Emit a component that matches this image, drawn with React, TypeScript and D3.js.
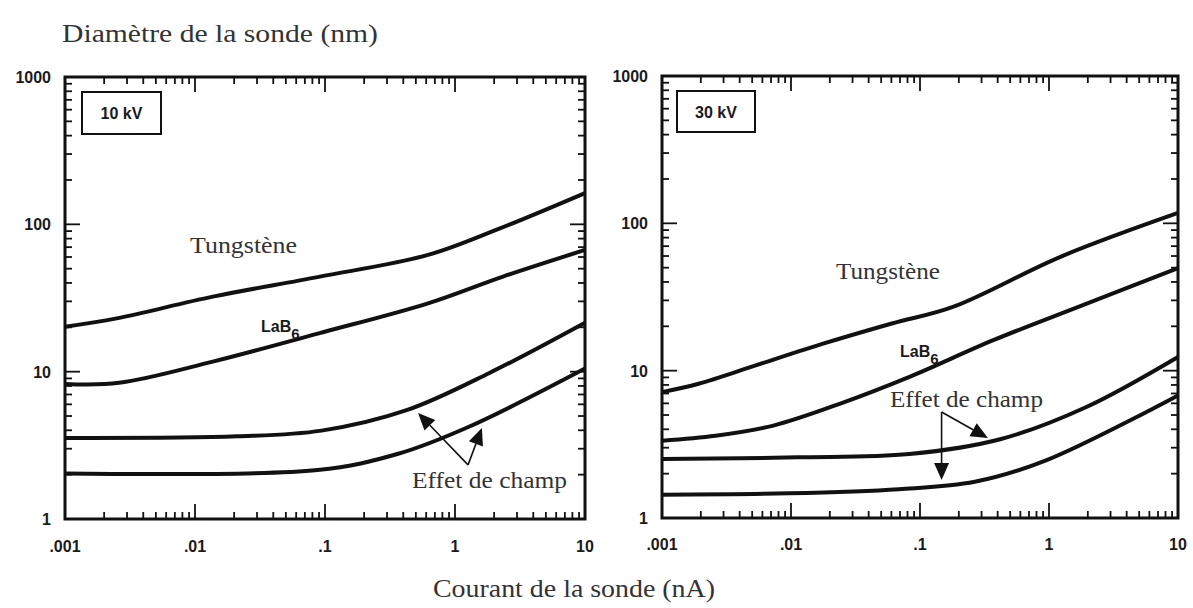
import React from 'react';
import * as d3 from 'd3';

// ---- Axis ticks ----
const xTickValues = [0.001, 0.01, 0.1, 1, 10];
const xTickLabels = ['.001', '.01', '.1', '1', '10'];
const yTickValues = [1, 10, 100, 1000];
const yTickLabels = ['1', '10', '100', '1000'];

// ---- 10 kV panel ----
const cur10Tungsten = [0.001, 0.0025, 0.0137, 0.0895, 0.62, 2.07, 10];
const dia10Tungsten = [20.2, 23, 32.3, 44, 62, 91.6, 163];
const cur10LaB6 = [0.001, 0.0026, 0.0137, 0.0895, 0.62, 2.34, 10];
const dia10LaB6 = [8.26, 8.4, 11.7, 18.2, 29.1, 44.2, 67];
const cur10FE1 = [0.001, 0.021, 0.094, 0.43, 1.84, 10];
const dia10FE1 = [3.55, 3.64, 3.98, 5.5, 9.8, 21.5];
const cur10FE2 = [0.001, 0.0877, 0.36, 1.28, 10];
const dia10FE2 = [2.04, 2.15, 2.76, 4.23, 10.5];

// ---- 30 kV panel ----
const cur30Tungsten = [0.001, 0.00192, 0.0054, 0.018, 0.0605, 0.18, 1.24, 10];
const dia30Tungsten = [7.15, 8.15, 10.9, 15.3, 20.9, 27.1, 59.5, 117.6];
const cur30LaB6 = [0.001, 0.0026, 0.0073, 0.0244, 0.082, 0.37, 1.69, 10];
const dia30LaB6 = [3.35, 3.62, 4.24, 6.0, 9.04, 16.1, 27.1, 49.6];
const cur30FE1 = [0.001, 0.0112, 0.0826, 0.425, 1.93, 10];
const dia30FE1 = [2.51, 2.58, 2.72, 3.44, 5.65, 12.4];
const cur30FE2 = [0.001, 0.0096, 0.0687, 0.266, 0.96, 10];
const dia30FE2 = [1.44, 1.47, 1.57, 1.76, 2.47, 6.79];

// ---- Annotations (data coordinates: current nA, diameter nm) ----
const ann10Tungsten = [0.00916, 63.9];
const ann10LaB6 = [0.0322, 18.6];
const ann10FieldText = [0.467, 1.62];
const ann10ArrowFrom = [1.26, 2.33];
const ann10ArrowTips = [[0.52, 5.24], [1.61, 4.15]];

const ann30Tungsten = [0.0223, 41.9];
const ann30LaB6 = [0.07, 12.4];
const ann30FieldText = [0.0585, 5.67];
const ann30ArrowFrom = [0.147, 5.24];
const ann30ArrowTips = [[0.147, 1.81], [0.336, 3.49]];

const zip = (xs: number[], ys: number[]) => xs.map((x, i) => [x, ys[i]] as [number, number]);

const panels = [
  {
    key: 'p10', label: '10 kV',
    left: 65, right: 585, top: 77, bottom: 519, xLabelBaseline: 552,
    box: { dx: 17, dy: 15, w: 79, h: 42 },
    series: [
      zip(cur10Tungsten, dia10Tungsten),
      zip(cur10LaB6, dia10LaB6),
      zip(cur10FE1, dia10FE1),
      zip(cur10FE2, dia10FE2),
    ],
    tungsten: ann10Tungsten, lab6: ann10LaB6, fieldText: ann10FieldText,
    arrowFrom: ann10ArrowFrom, arrowTips: ann10ArrowTips,
    tungstenLen: 107, fieldLen: 155,
  },
  {
    key: 'p30', label: '30 kV',
    left: 662, right: 1178, top: 76, bottom: 518, xLabelBaseline: 550,
    box: { dx: 15, dy: 15, w: 78, h: 41 },
    series: [
      zip(cur30Tungsten, dia30Tungsten),
      zip(cur30LaB6, dia30LaB6),
      zip(cur30FE1, dia30FE1),
      zip(cur30FE2, dia30FE2),
    ],
    tungsten: ann30Tungsten, lab6: ann30LaB6, fieldText: ann30FieldText,
    arrowFrom: ann30ArrowFrom, arrowTips: ann30ArrowTips,
    tungstenLen: 104, fieldLen: 153,
  },
];

const INK = '#111';
const SERIF = '"Liberation Serif", "Times New Roman", serif';
const SANS = '"Liberation Sans", Arial, Helvetica, sans-serif';

function Arrow({ x1, y1, x2, y2 }: { x1: number; y1: number; x2: number; y2: number }) {
  const dx = x2 - x1, dy = y2 - y1;
  const len = Math.hypot(dx, dy);
  const ux = dx / len, uy = dy / len;
  const hl = 17, hw = 7.5;
  const bx = x2 - ux * hl, by = y2 - uy * hl;
  const pts = [
    [x2, y2],
    [bx - uy * hw, by + ux * hw],
    [bx + uy * hw, by - ux * hw],
  ].map((p) => p.join(',')).join(' ');
  return (
    <g>
      <line x1={x1} y1={y1} x2={bx} y2={by} stroke={INK} strokeWidth={1.6} />
      <polygon points={pts} fill={INK} />
    </g>
  );
}

function Panel({ p }: { p: typeof panels[number] }) {
  const x = d3.scaleLog().domain([0.001, 10]).range([p.left, p.right]);
  const y = d3.scaleLog().domain([1, 1000]).range([p.bottom, p.top]);
  const line = d3.line<[number, number]>()
    .x((d) => x(d[0]))
    .y((d) => y(d[1]))
    .curve(d3.curveCatmullRom.alpha(0.5));
  const xt = x.ticks();
  const yt = y.ticks();
  const isMajor = (v: number) => Math.abs(Math.log10(v) - Math.round(Math.log10(v))) < 1e-6;
  const MAJ = 15, MIN = 7;
  const ticks: JSX.Element[] = [];
  xt.forEach((v, i) => {
    const px = x(v);
    const L = isMajor(v) ? MAJ : MIN;
    ticks.push(<line key={'xb' + i} x1={px} x2={px} y1={p.bottom} y2={p.bottom - L} stroke={INK} strokeWidth={1.8} />);
    ticks.push(<line key={'xt' + i} x1={px} x2={px} y1={p.top} y2={p.top + L} stroke={INK} strokeWidth={1.8} />);
  });
  yt.forEach((v, i) => {
    const py = y(v);
    const L = isMajor(v) ? MAJ : MIN;
    ticks.push(<line key={'yl' + i} x1={p.left} x2={p.left + L} y1={py} y2={py} stroke={INK} strokeWidth={1.8} />);
    ticks.push(<line key={'yr' + i} x1={p.right} x2={p.right - L} y1={py} y2={py} stroke={INK} strokeWidth={1.8} />);
  });
  const from = [x(p.arrowFrom[0]), y(p.arrowFrom[1])];
  return (
    <g>
      {ticks}
      <rect x={p.left} y={p.top} width={p.right - p.left} height={p.bottom - p.top}
        fill="none" stroke={INK} strokeWidth={3} />
      {p.series.map((s, i) => (
        <path key={i} d={line(s) || ''} fill="none" stroke={INK} strokeWidth={4} strokeLinejoin="round" />
      ))}
      {xTickValues.map((v, i) => (
        <text key={'xl' + i} x={x(v)} y={p.xLabelBaseline} textAnchor="middle"
          fontFamily={SANS} fontWeight="bold" fontSize={16} fill="#1a1a1a">{xTickLabels[i]}</text>
      ))}
      {yTickValues.map((v, i) => (
        <text key={'yl' + i} x={p.left - 14} y={y(v) + 6} textAnchor="end"
          fontFamily={SANS} fontWeight="bold" fontSize={16} fill="#1a1a1a">{yTickLabels[i]}</text>
      ))}
      <rect x={p.left + p.box.dx} y={p.top + p.box.dy} width={p.box.w} height={p.box.h}
        fill="none" stroke={INK} strokeWidth={2} />
      <text x={p.left + p.box.dx + p.box.w / 2} y={p.top + p.box.dy + p.box.h / 2 + 6}
        textAnchor="middle" fontFamily={SANS} fontWeight="bold" fontSize={16} fill="#1a1a1a">{p.label}</text>
      <text x={x(p.tungsten[0])} y={y(p.tungsten[1])} fontFamily={SERIF} fontSize={24}
        textLength={p.tungstenLen} lengthAdjust="spacingAndGlyphs" fill="#333">Tungstène</text>
      <text x={x(p.lab6[0])} y={y(p.lab6[1])} fontFamily={SANS} fontWeight="bold" fontSize={16} fill="#1a1a1a">
        LaB<tspan dy={7} fontSize={15}>6</tspan>
      </text>
      <text x={x(p.fieldText[0])} y={y(p.fieldText[1])} fontFamily={SERIF} fontSize={24}
        textLength={p.fieldLen} lengthAdjust="spacingAndGlyphs" fill="#333">Effet de champ</text>
      {p.arrowTips.map((t, i) => (
        <Arrow key={i} x1={from[0]} y1={from[1]} x2={x(t[0])} y2={y(t[1])} />
      ))}
    </g>
  );
}

export default function App() {
  return (
    <svg width={1193} height={608} style={{ position: 'absolute', left: 0, top: 0, background: '#fff' }}>
      <rect x={0} y={0} width={1193} height={608} fill="#fff" />
      <text x={62} y={42} fontFamily={SERIF} fontSize={25} textLength={316}
        lengthAdjust="spacingAndGlyphs" fill="#333">Diamètre de la sonde (nm)</text>
      {panels.map((p) => <Panel key={p.key} p={p} />)}
      <text x={433} y={597} fontFamily={SERIF} fontSize={25} textLength={282}
        lengthAdjust="spacingAndGlyphs" fill="#333">Courant de la sonde (nA)</text>
    </svg>
  );
}
